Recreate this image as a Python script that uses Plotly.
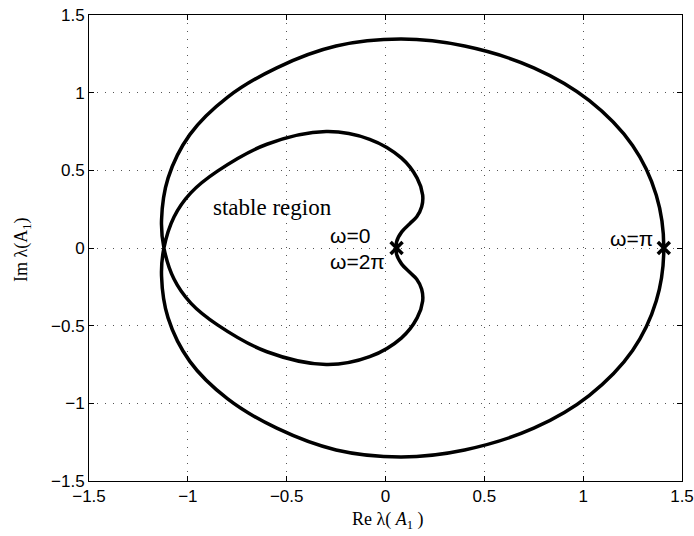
import plotly.graph_objects as go

# Eigenvalue locus lambda(A1) for omega in [0, 2*pi].
# Order: omega=0 -> inner upper -> crossing -> outer lower -> omega=pi
#        -> outer upper -> crossing -> inner lower -> omega=2*pi
re_vals = [
    # inner upper
    0.056, 0.056, 0.082, 0.124, 0.158, 0.183, 0.188, 0.160, 0.080, -0.080,
    -0.300, -0.600, -0.850, -0.985, -1.070, -1.121,
    # outer lower
    -1.133, -1.100, -0.990, -0.800, -0.550, -0.250, 0.080, 0.400, 0.750, 1.030,
    1.250, 1.370, 1.408,
    # outer upper
    1.370, 1.250, 1.030, 0.750, 0.400, 0.080, -0.250, -0.550, -0.800, -0.990,
    -1.100, -1.133, -1.121,
    # inner lower
    -1.070, -0.985, -0.850, -0.600, -0.300, -0.080, 0.080, 0.160, 0.188, 0.183,
    0.158, 0.124, 0.082, 0.056, 0.056,
]
im_vals = [
    # inner upper
    0.000, 0.040, 0.104, 0.158, 0.201, 0.265, 0.341, 0.450, 0.580, 0.700,
    0.750, 0.668, 0.495, 0.355, 0.200, 0.000,
    # outer lower
    -0.180, -0.450, -0.730, -0.970, -1.160, -1.300, -1.345, -1.300, -1.160, -0.950,
    -0.660, -0.340, 0.000,
    # outer upper
    0.340, 0.660, 0.950, 1.160, 1.300, 1.345, 1.300, 1.160, 0.970, 0.730,
    0.450, 0.180, 0.000,
    # inner lower
    -0.200, -0.355, -0.495, -0.668, -0.750, -0.700, -0.580, -0.450, -0.341, -0.265,
    -0.201, -0.158, -0.104, -0.040, 0.000,
]

marker_re = [0.056, 1.408]
marker_im = [0.0, 0.0]

tick_vals = [-1.5, -1, -0.5, 0, 0.5, 1, 1.5]
tick_text = ["\u22121.5", "\u22121", "\u22120.5", "0", "0.5", "1", "1.5"]

fig = go.Figure()
fig.add_trace(go.Scatter(
    x=re_vals, y=im_vals, mode="lines",
    line=dict(color="black", width=3.5, shape="spline", smoothing=1.0),
    hoverinfo="skip", showlegend=False,
))
fig.add_trace(go.Scatter(
    x=marker_re, y=marker_im, mode="markers",
    marker=dict(symbol="x-thin", size=12, line=dict(color="black", width=3.5)),
    hoverinfo="skip", showlegend=False,
))

axis_common = dict(
    range=[-1.5, 1.5], tickvals=tick_vals, ticktext=tick_text,
    showline=True, linecolor="black", linewidth=1, mirror="ticks",
    ticks="inside", ticklen=5, tickcolor="black", tickwidth=1,
    showgrid=True, gridcolor="#555555", gridwidth=1, griddash="1px,7px",
    zeroline=False, automargin=False,
    tickfont=dict(family="Liberation Sans, Arial, sans-serif", size=17, color="black"),
)
fig.update_xaxes(**axis_common)
fig.update_yaxes(**axis_common)

serif = "Liberation Serif, Times New Roman, serif"
sans = "Liberation Sans, Arial, sans-serif"
annotations = [
    dict(x=-0.574, y=0.263, text="stable region", font=dict(family=serif, size=23, color="black"),
         xanchor="center", yanchor="middle"),
    dict(x=-0.291, y=0.083, text="\u03c9=0", font=dict(family=sans, size=21, color="black"),
         xanchor="left", yanchor="middle"),
    dict(x=-0.291, y=-0.084, text="\u03c9=2\u03c0", font=dict(family=sans, size=21, color="black"),
         xanchor="left", yanchor="middle"),
    dict(x=1.128, y=0.058, text="\u03c9=\u03c0", font=dict(family=sans, size=21, color="black"),
         xanchor="left", yanchor="middle"),
]
for a in annotations:
    a.update(xref="x", yref="y", showarrow=False)

annotations.append(dict(
    xref="paper", yref="paper", x=(388 - 89) / 593, y=-(520 - 481) / 466,
    text="Re \u03bb( <i>A</i><sub>1</sub> )", showarrow=False,
    font=dict(family=serif, size=18, color="black"), xanchor="center", yanchor="middle",
))
annotations.append(dict(
    xref="paper", yref="paper", x=-(89 - 22) / 593, y=(481 - 250) / 466,
    text="Im \u03bb(A<sub>1</sub>)", showarrow=False, textangle=-90,
    font=dict(family=serif, size=18, color="black"), xanchor="center", yanchor="middle",
))

fig.update_layout(
    width=694, height=536,
    margin=dict(l=89, r=12, t=15, b=55, autoexpand=False),
    plot_bgcolor="white", paper_bgcolor="white",
    annotations=annotations,
    showlegend=False,
)

fig.write_html(
    "out.html",
    config={"displayModeBar": False},
    post_script="document.body.style.margin='0px';document.body.style.overflow='hidden';",
)
